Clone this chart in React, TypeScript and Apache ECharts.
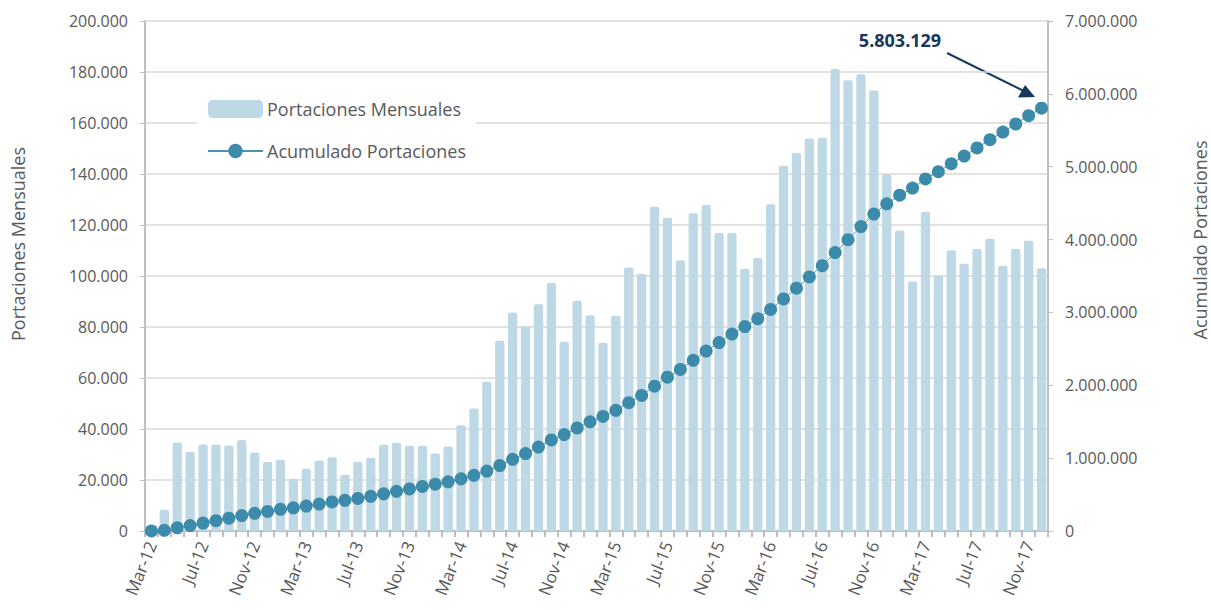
import React, { useEffect, useRef } from "react";
import * as echarts from "echarts";

const months: string[] = [
  "Mar-12", "Abr-12", "May-12", "Jun-12", "Jul-12", "Ago-12", "Sep-12", "Oct-12", "Nov-12", "Dic-12",
  "Ene-13", "Feb-13", "Mar-13", "Abr-13", "May-13", "Jun-13", "Jul-13", "Ago-13", "Sep-13", "Oct-13", "Nov-13", "Dic-13",
  "Ene-14", "Feb-14", "Mar-14", "Abr-14", "May-14", "Jun-14", "Jul-14", "Ago-14", "Sep-14", "Oct-14", "Nov-14", "Dic-14",
  "Ene-15", "Feb-15", "Mar-15", "Abr-15", "May-15", "Jun-15", "Jul-15", "Ago-15", "Sep-15", "Oct-15", "Nov-15", "Dic-15",
  "Ene-16", "Feb-16", "Mar-16", "Abr-16", "May-16", "Jun-16", "Jul-16", "Ago-16", "Sep-16", "Oct-16", "Nov-16", "Dic-16",
  "Ene-17", "Feb-17", "Mar-17", "Abr-17", "May-17", "Jun-17", "Jul-17", "Ago-17", "Sep-17", "Oct-17", "Nov-17", "Dic-17",
];

const portacionesMensuales: number[] = [
  300, 8300, 34700, 31000, 33900, 33800, 33500, 35700, 30800, 27100,
  27800, 20500, 24400, 27600, 28900, 22100, 27200, 28700, 33800, 34600,
  33400, 33400, 30400, 33100, 41500, 48000, 58500, 74600, 85700, 80300,
  88900, 97300, 74200, 90300, 84600, 73800, 84400, 103300, 100800, 127200,
  122800, 106200, 124600, 127800, 116900, 116900, 102800, 107100, 128100, 143200,
  148200, 153900, 154200, 181200, 176800, 179100, 172700, 139800, 117800, 97800,
  125200, 100100, 110100, 104800, 110600, 114600, 104000, 110600, 113800, 103029,
];

const acumuladoPortaciones: number[] = [
  300, 8600, 43300, 74300, 108200, 142000, 175500, 211200, 242000, 269100,
  296900, 317400, 341800, 369400, 398300, 420400, 447600, 476300, 510100, 544700,
  578100, 611500, 641900, 675000, 716500, 764500, 823000, 897600, 983300, 1063600,
  1152500, 1249800, 1324000, 1414300, 1498900, 1572700, 1657100, 1760400, 1861200, 1988400,
  2111200, 2217400, 2342000, 2469800, 2586700, 2703600, 2806400, 2913500, 3041600, 3184800,
  3333000, 3486900, 3641100, 3822300, 3999100, 4178200, 4350900, 4490700, 4608500, 4706300,
  4831500, 4931600, 5041700, 5146500, 5257100, 5371700, 5475700, 5586300, 5700100, 5803129,
];

const seriesNames = ["Portaciones Mensuales", "Acumulado Portaciones"];
const leftAxisTitle = "Portaciones Mensuales";
const rightAxisTitle = "Acumulado Portaciones";
const annotationText = "5.803.129";

const fmt = (v: number): string => {
  const s = Math.round(v).toString();
  return s.replace(/\B(?=(\d{3})+(?!\d))/g, ".");
};

const FONT = "'Open Sans', 'Noto Sans', sans-serif";
const TXT = "#595959";

export default function App() {
  const ref = useRef<HTMLDivElement>(null);
  useEffect(() => {
    if (!ref.current) return;
    const chart = echarts.init(ref.current, undefined, { renderer: "svg" });
    chart.setOption({
      animation: false,
      backgroundColor: "#ffffff",
      textStyle: { fontFamily: FONT },
      grid: { left: 145, right: 163, top: 21, bottom: 79, containLabel: false },
      legend: {
        orient: "vertical",
        left: 197,
        top: 97,
        padding: [3, 10, 4, 10],
        itemGap: 24,
        itemWidth: 55,
        itemHeight: 18,
        backgroundColor: "#ffffff",
        data: seriesNames,
        textStyle: { fontFamily: FONT, fontSize: 18, color: TXT, padding: [0, 0, 0, -1] },
      },
      xAxis: {
        type: "category",
        data: months,
        boundaryGap: true,
        axisLine: { show: true, lineStyle: { color: "#bfbfbf", width: 2 } },
        axisTick: { show: true, interval: 0, length: 6, lineStyle: { color: "#bfbfbf", width: 2 } },
        axisLabel: {
          interval: 3,
          rotate: 68,
          margin: 11,
          fontSize: 17,
          color: TXT,
          fontFamily: FONT,
        },
        splitLine: { show: false },
      },
      yAxis: [
        {
          type: "value",
          min: 0,
          max: 200000,
          interval: 20000,
          axisLine: { show: true, lineStyle: { color: "#bfbfbf", width: 2 } },
          axisTick: { show: true, length: 5, lineStyle: { color: "#bfbfbf" } },
          axisLabel: { margin: 17, fontSize: 16, color: TXT, fontFamily: FONT, formatter: (v: number) => fmt(v) },
          splitLine: { show: true, lineStyle: { color: "#d9d9d9", width: 1.5 } },
        },
        {
          type: "value",
          min: 0,
          max: 7000000,
          interval: 1000000,
          position: "right",
          axisLine: { show: true, lineStyle: { color: "#bfbfbf", width: 2 } },
          axisTick: { show: true, length: 5, lineStyle: { color: "#bfbfbf" } },
          axisLabel: { margin: 17, fontSize: 16, color: TXT, fontFamily: FONT, formatter: (v: number) => fmt(v) },
          splitLine: { show: false },
        },
      ],
      series: [
        {
          name: seriesNames[0],
          type: "bar",
          data: portacionesMensuales,
          yAxisIndex: 0,
          barCategoryGap: "28%",
          itemStyle: { color: "#bed9e5", borderRadius: [2, 2, 0, 0] },
        },
        {
          name: seriesNames[1],
          type: "line",
          data: acumuladoPortaciones,
          yAxisIndex: 1,
          symbol: "circle",
          symbolSize: 13,
          showSymbol: true,
          showAllSymbol: true,
          itemStyle: { color: "#3d8bab" },
          lineStyle: { color: "#4a93b2", width: 1 },
          z: 3,
        },
      ],
      graphic: [
        {
          type: "text",
          x: 18,
          y: 244,
          rotation: Math.PI / 2,
          style: {
            text: leftAxisTitle,
            fontFamily: FONT,
            fontSize: 18,
            fill: TXT,
            align: "center",
            verticalAlign: "middle",
          },
        },
        {
          type: "text",
          x: 1200,
          y: 240,
          rotation: Math.PI / 2,
          style: {
            text: rightAxisTitle,
            fontFamily: FONT,
            fontSize: 18,
            fill: TXT,
            align: "center",
            verticalAlign: "middle",
          },
        },
        {
          type: "text",
          x: 900,
          y: 40,
          style: {
            text: annotationText,
            fontFamily: FONT,
            fontSize: 18,
            fontWeight: "bold",
            fill: "#17375e",
            align: "center",
            verticalAlign: "middle",
          },
        },
        {
          type: "line",
          shape: { x1: 947, y1: 53, x2: 1026, y2: 92 },
          style: { stroke: "#17375e", lineWidth: 2 },
        },
        {
          type: "polygon",
          shape: { points: [[1035, 97], [1018, 97.5], [1025, 85]] },
          style: { fill: "#17375e" },
        },
      ],
    });
    return () => chart.dispose();
  }, []);
  return (
    <div
      ref={ref}
      style={{ position: "fixed", left: 0, top: 0, width: 1211, height: 610, background: "#fff" }}
    />
  );
}
